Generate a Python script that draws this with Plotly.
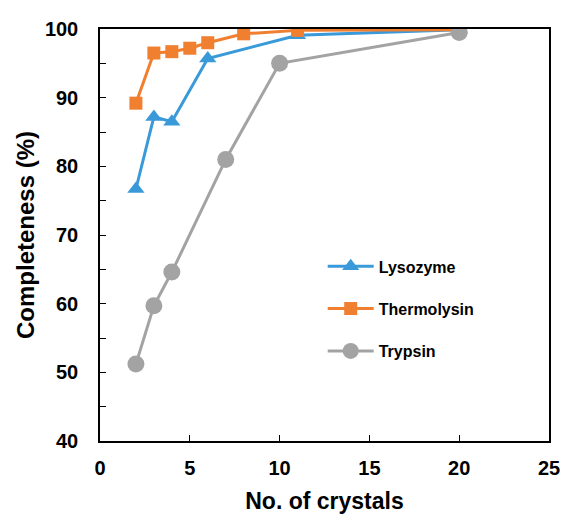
import plotly.graph_objects as go

lyso_x = [2, 3, 4, 6, 11, 20]
lyso_y = [76.7, 87.2, 86.5, 95.7, 99.1, 99.9]
thermo_x = [2, 3, 4, 5, 6, 8, 11, 20]
thermo_y = [89.2, 96.5, 96.7, 97.2, 98.0, 99.3, 99.8, 99.9]
tryp_x = [2, 3, 4, 7, 10, 20]
tryp_y = [51.2, 59.7, 64.6, 81.0, 95.0, 99.5]

FONT = "Liberation Sans, Arial, sans-serif"

fig = go.Figure()
fig.add_trace(go.Scatter(x=lyso_x, y=lyso_y, name="Lysozyme", mode="lines+markers",
                         legendgroup="a",
                         line=dict(color="#3A9AD9", width=3),
                         marker=dict(symbol="triangle-up", size=15, color="#3A9AD9")))
fig.add_trace(go.Scatter(x=thermo_x, y=thermo_y, name="Thermolysin", mode="lines+markers",
                         legendgroup="b",
                         line=dict(color="#F07F2F", width=3),
                         marker=dict(symbol="square", size=13, color="#F07F2F")))
fig.add_trace(go.Scatter(x=tryp_x, y=tryp_y, name="Trypsin", mode="lines+markers",
                         legendgroup="c",
                         line=dict(color="#A3A3A3", width=3),
                         marker=dict(symbol="circle", size=17, color="#A3A3A3")))

fig.update_layout(
    width=562, height=514,
    margin=dict(l=100, r=13, t=29, b=73, autoexpand=False),
    paper_bgcolor="white", plot_bgcolor="white",
    font=dict(family=FONT, color="black", weight="bold"),
    legend=dict(x=0.496, y=0.465, xanchor="left", yanchor="top",
                font=dict(size=16, family=FONT, weight="bold"),
                itemwidth=46,
                tracegroupgap=18.5, bgcolor="rgba(0,0,0,0)"),
    xaxis=dict(range=[0, 25], dtick=5, showgrid=False, zeroline=False,
               automargin=False,
               showline=True, linecolor="black", linewidth=1.5, mirror=True,
               ticks="inside", ticklen=6, tickcolor="black",
               tickfont=dict(size=20, family=FONT, weight="bold"),
               ticklabelstandoff=8,
               title=dict(text="No. of crystals", standoff=18,
                          font=dict(size=23, family=FONT, weight="bold"))),
    yaxis=dict(range=[40, 100], dtick=10, showgrid=False, zeroline=False,
               automargin=False,
               showline=True, linecolor="black", linewidth=1.5, mirror=True,
               ticks="inside", ticklen=6, tickcolor="black",
               minor=dict(dtick=5, ticks="inside", ticklen=6, tickcolor="black"),
               tickfont=dict(size=20, family=FONT, weight="bold"),
               ticklabelstandoff=16,
               title=dict(text="Completeness (%)", standoff=3,
                          font=dict(size=24, family=FONT, weight="bold"))),
)

fig.write_html("out.html", config={"displayModeBar": False},
               post_script="document.body.style.margin='0';")
